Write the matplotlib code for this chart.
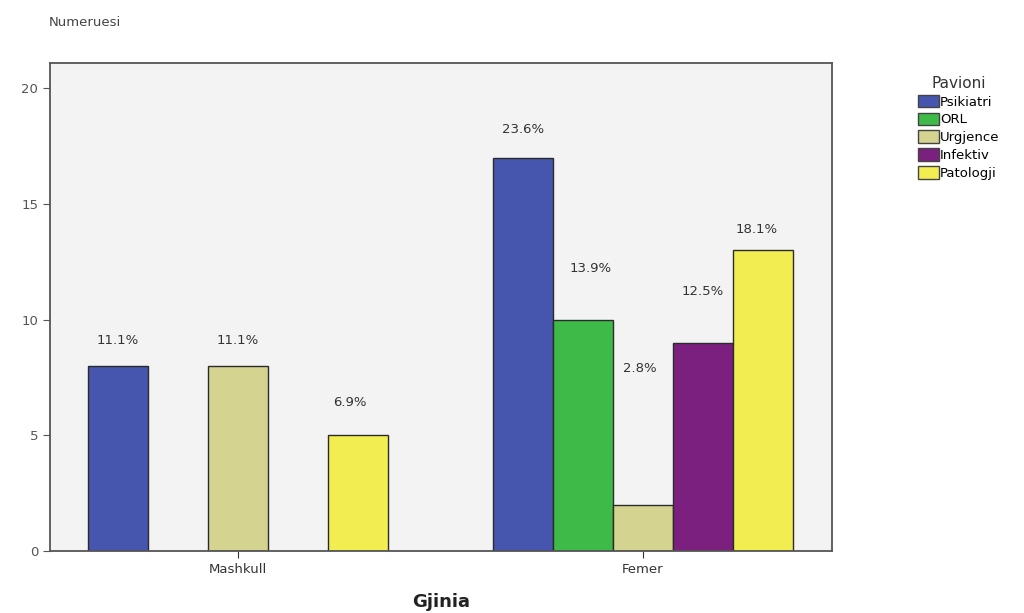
import matplotlib.pyplot as plt
from matplotlib.patches import Patch

plt.rcParams['font.family'] = ['DejaVu Sans']

# Numri i pacienteve sipas gjinise dhe pavionit
gjinia = ['Mashkull', 'Femer']
pavionet = ['Psikiatri', 'ORL', 'Urgjence', 'Infektiv', 'Patologji']
mashkull = [8, 0, 8, 0, 5]
femer = [17, 10, 2, 9, 13]
totali = 72

ngjyrat = ['#4656ae', '#3dba48', '#d4d38f', '#7c207f', '#f2ee52']

# zhvendosja e etiketave (ne slot, ne vlere) qe te mos mbivendosen
zhvendos_m = [(0, 1.1), None, (0, 1.1), None, (-0.13, 1.4)]
zhvendos_f = [(0, 1.2), (0.12, 2.2), (-0.05, 5.9), (0, 2.2), (-0.1, 0.9)]

fig = plt.figure(figsize=(10.24, 6.13), dpi=100)
ax = fig.add_axes([0.0488, 0.101, 0.7637, 0.796])
ax.set_facecolor('#f3f3f3')

slot = 0.148
for g, (vlerat, zhv) in enumerate([(mashkull, zhvendos_m), (femer, zhvendos_f)]):
    for i, v in enumerate(vlerat):
        if v == 0:
            continue
        x = g + (i - 2) * slot
        ax.bar(x, v, width=slot, color=ngjyrat[i],
               edgecolor='#2b2b2b', linewidth=1.0, zorder=2)
        dx, dy = zhv[i]
        ax.text(x + dx * slot, v + dy, f'{v / totali * 100:.1f}%',
                ha='center', va='center', fontsize=9.5, color='#333333')

ax.set_xlim(-0.464, 1.467)
ax.set_ylim(0, 21.08)
ax.set_yticks([0, 5, 10, 15, 20])
ax.set_xticks([0, 1])
ax.set_xticklabels(gjinia)
ax.tick_params(axis='both', labelsize=9.5, colors='#333333', length=5, direction='out')
ax.tick_params(axis='y', colors='#555555')
for s in ax.spines.values():
    s.set_color('#555555')
    s.set_linewidth(1.3)

fig.text(0.048, 0.964, 'Numeruesi', fontsize=9.5, color='#444444', va='center')
fig.text(0.431, 0.018, 'Gjinia', fontsize=13, fontweight='bold', color='#222222',
         ha='center', va='center')

doreza = [Patch(facecolor=c, edgecolor='#444444', label=p) for c, p in zip(ngjyrat, pavionet)]
leg = fig.legend(handles=doreza, title='Pavioni', loc='upper left',
                 bbox_to_anchor=(0.891, 0.885), frameon=False, fontsize=9.5,
                 title_fontsize=11, handlelength=1.6, handleheight=1.1,
                 handletextpad=0.1, labelspacing=0.3, borderaxespad=0)
leg.get_title().set_color('#333333')

fig.savefig('out.png', dpi=100)
